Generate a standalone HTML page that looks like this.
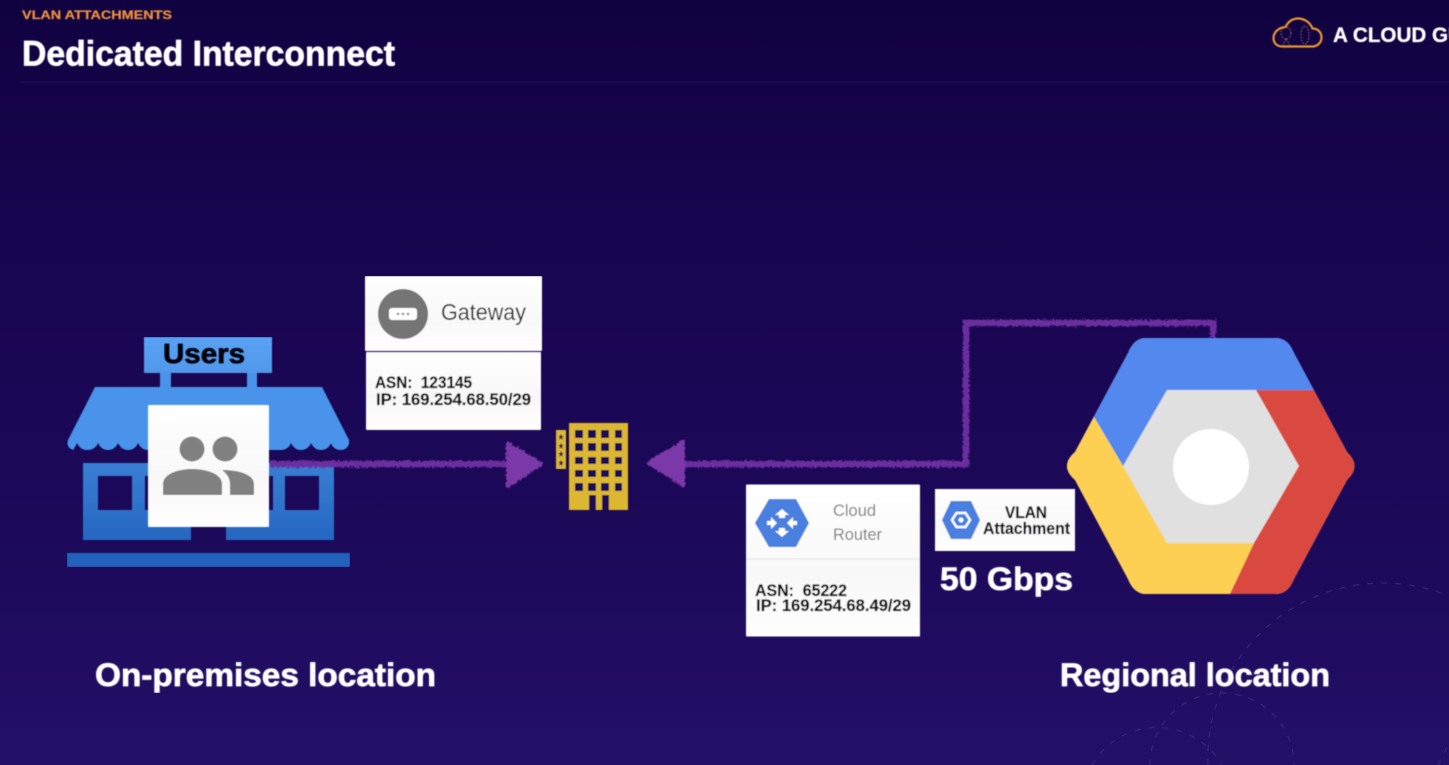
<!DOCTYPE html>
<html><head><meta charset="utf-8"><style>
html,body{margin:0;padding:0;width:1449px;height:765px;overflow:hidden;background:#1b0858}
svg{display:block;overflow:hidden}
text{font-family:"Liberation Sans",sans-serif;white-space:pre}
</style></head><body>
<svg width="1449" height="765" viewBox="0 0 1449 765" xmlns="http://www.w3.org/2000/svg">
<defs>
<linearGradient id="bg" x1="0" y1="0" x2="0" y2="1">
<stop offset="0" stop-color="#100240"/><stop offset=".3" stop-color="#180550"/><stop offset=".7" stop-color="#1c0959"/><stop offset="1" stop-color="#231068"/>
</linearGradient>
<linearGradient id="st1" gradientUnits="userSpaceOnUse" x1="0" y1="337" x2="0" y2="567"><stop offset="0" stop-color="#5aa2f3"/><stop offset="1" stop-color="#1f60bb"/></linearGradient>
<linearGradient id="card" x1="0" y1="0" x2="0" y2="1"><stop offset="0" stop-color="#fff"/><stop offset=".6" stop-color="#f8f8f8"/><stop offset="1" stop-color="#fff"/></linearGradient>
<filter id="rough" filterUnits="userSpaceOnUse" x="250" y="300" width="1000" height="210"><feTurbulence type="fractalNoise" baseFrequency=".4" numOctaves="3" seed="7"/><feDisplacementMap in="SourceGraphic" scale="5" xChannelSelector="R" yChannelSelector="G"/><feGaussianBlur stdDeviation=".5"/></filter>
<filter id="soft" x="0" y="0" width="100%" height="100%"><feGaussianBlur stdDeviation=".45"/></filter>
<clipPath id="hex"><path d="M1146 338H1276Q1288 338 1294 353L1347 452Q1362 466 1347 480L1294 579Q1288 594 1276 594H1146Q1134 594 1128 579L1075 480Q1059 466 1075 452L1128 353Q1134 338 1146 338Z"/></clipPath>
</defs>
<rect width="1449" height="765" fill="url(#bg)"/>

<g fill="none" stroke="#3b2b7e" stroke-width="1.300" stroke-dasharray="6 8" opacity=".75">
<path d="M1208 765A175 175 0 0 1 1449 596"/>
<path d="M1150 765A72 72 0 0 1 1294 765"/>
<path d="M1092 765A75 75 0 0 1 1222 765"/>
<path d="M1447 747L1438 765"/>
</g>

<g filter="url(#soft)">
<line x1="20" y1="82.500" x2="1449" y2="82.500" stroke="#2a1c60" stroke-width="1.500"/>
<text x="22" y="19" font-size="12" font-weight="700" fill="#f0903a" stroke="#f0903a" stroke-width=".2" textLength="150" lengthAdjust="spacingAndGlyphs">VLAN ATTACHMENTS</text>
<text x="22" y="65.500" font-size="35" font-weight="700" fill="#fff" stroke="#fff" stroke-width=".7" textLength="373" lengthAdjust="spacingAndGlyphs">Dedicated Interconnect</text>

<!-- logo -->
<g fill="none">
<path d="M1282 46.500H1312C1318 46.500 1321.500 42 1321.500 37.500C1321.500 32 1317.500 28.500 1312.500 28.500C1310 22 1304 18.500 1298 18.500C1292 18.500 1288 22 1285.500 27C1279 27.500 1273.500 32 1273.500 38C1273.500 43 1277 46.500 1282 46.500Z" stroke="#e8962f" stroke-width="2.200"/>
<ellipse cx="1286" cy="33" rx="5" ry="6" stroke="#a8745a" stroke-width="1" stroke-dasharray="1.500 1.500"/>
<path d="M1286 39L1283 45M1286 39L1290 45" stroke="#a8745a" stroke-width="1" stroke-dasharray="1.500 1.500"/>
<ellipse cx="1305" cy="35" rx="4" ry="9" stroke="#a8745a" stroke-width="1" stroke-dasharray="1.500 1.500"/>
</g>
<text x="1333" y="42" font-size="21" font-weight="700" fill="#fff" stroke="#fff" stroke-width=".3" textLength="130" lengthAdjust="spacingAndGlyphs">A CLOUD GU</text>
</g>

<g filter="url(#soft)">
<!-- store -->
<rect x="144" y="337" width="128" height="36" fill="url(#st1)"/>
<rect x="160" y="373" width="11" height="15" fill="#4a93ea"/>
<rect x="247" y="373" width="10" height="15" fill="#4a93ea"/>
<path d="M95 387H322L349 440C350 446 346 450 341 450C336 450 332 447 331 443C329 448 325 450 321 450C316 450 313 447 311 443C309 448 305 450 301 450C296 450 293 447 291 443C289 448 285 450 281 450L148 450C143 450 140 447 138 443C136 448 132 450 128 450C123 450 120 447 118 443C116 448 112 450 108 450C103 450 100 447 98 443C96 448 92 450 87 450C82 450 79 447 77 443C75 448 72 450 75 450C70 450 66 446 68 440Z" fill="#4a93ea"/>
<path fill-rule="evenodd" d="M83 463H334V540H226V520H191V540H83ZM98 476V510H132V476ZM145 476V510H180V476ZM238 476V510H273V476ZM285 476V510H319V476Z" fill="url(#st1)"/>
<rect x="67" y="553" width="283" height="14" fill="#2262bd"/>
</g>

<!-- connectors -->
<g filter="url(#rough)">
<path d="M270 464H508" fill="none" stroke="#6c2f9e" stroke-width="6.500"/>
<path d="M508 444L541 464L508 486Z" fill="#7a39a8" stroke="#7a39a8" stroke-width="4" stroke-linejoin="round"/>
<path d="M685 464H966V323H1213V338" fill="none" stroke="#6c2f9e" stroke-width="6.500"/>
<path d="M683 442L649 463L683 485Z" fill="#7a39a8" stroke="#7a39a8" stroke-width="4" stroke-linejoin="round"/>
</g>

<g filter="url(#soft)">
<text x="163" y="363" font-size="28" font-weight="700" fill="#06060f" stroke="#06060f" stroke-width=".7" textLength="82" lengthAdjust="spacingAndGlyphs">Users</text>
<rect x="148" y="405" width="121" height="122" rx="1" fill="url(#card)"/>
<g fill="#808080">
<circle cx="192" cy="449" r="12.500"/><circle cx="225" cy="449" r="12.500"/>
<path d="M163 495V484C163 474 178 469 192 469C207 469 222 474 222 484V495Z"/>
<path d="M222 470C240 470 254 475 254 484V495H230V484C230 478 227 474 222 470Z"/>
</g>

<!-- gateway -->
<rect x="365" y="276" width="177" height="75" rx="1" fill="url(#card)"/>
<rect x="366" y="352" width="175" height="78" rx="1" fill="url(#card)"/>
<circle cx="403" cy="314" r="25" fill="#757575"/>
<rect x="389" y="308" width="28" height="12" rx="3" fill="#fff"/>
<g fill="#757575"><circle cx="398" cy="314" r="1.200"/><circle cx="403" cy="314" r="1.200"/><circle cx="408" cy="314" r="1.200"/></g>
<text x="441" y="320" font-size="23" fill="#333" textLength="85" lengthAdjust="spacingAndGlyphs">Gateway</text>
<text x="375" y="388" font-size="16.500" font-weight="700" fill="#111" stroke="#111" stroke-width=".2" textLength="97" lengthAdjust="spacingAndGlyphs">ASN:  123145</text>
<text x="376" y="405" font-size="16.500" font-weight="700" fill="#111" stroke="#111" stroke-width=".2" textLength="155" lengthAdjust="spacingAndGlyphs">IP: 169.254.68.50/29</text>

<!-- building -->
<rect x="569" y="423" width="59" height="87" fill="#dcb832"/>
<rect x="556" y="430" width="10" height="39" fill="#dcb832"/>
<g fill="#1a0755">
<path d="M575 430h8v8h-8zM588 430h8v8h-8zM601 430h8v8h-8zM615 430h7v8h-7zM575 443h8v8h-8zM588 443h8v8h-8zM601 443h8v8h-8zM615 443h7v8h-7zM575 457h8v7h-8zM588 457h8v7h-8zM601 457h8v7h-8zM615 457h7v7h-7zM575 470h8v7h-8zM588 470h8v7h-8zM601 470h8v7h-8zM615 470h7v7h-7zM575 483h8v8h-8zM588 483h8v8h-8zM601 483h8v8h-8zM615 483h7v8h-7zM589 495h7v15h-7zM602 495h7v15h-7z"/>
<path d="M561 434l1 2h2l-2 1.500 1 2.500-2-1.500-2 1.500 1-2.500-2-1.500h2zM561 443l1 2h2l-2 1.500 1 2.500-2-1.500-2 1.500 1-2.500-2-1.500h2zM561 451l1 2h2l-2 1.500 1 2.500-2-1.500-2 1.500 1-2.500-2-1.500h2zM561 460l1 2h2l-2 1.500 1 2.500-2-1.500-2 1.500 1-2.500-2-1.500h2z"/>
</g>

<!-- cloud router -->
<rect x="746" y="484.500" width="174" height="152" rx="1" fill="url(#card)"/>
<line x1="746" y1="559" x2="920" y2="559" stroke="#e2e2e2" stroke-width="1"/>
<path d="M769 499H796L809 523L796 547H769L755 523Z" fill="#4a80e0"/>
<path d="M782 509l7 6h-4v3h-6v-3h-4zM782 537l7-6h-4v-3h-6v3h-4zM777 523l-6-6v4h-4v4h4v4zM787 523l6-6v4h4v4h-4v4z" fill="#fff"/>
<text x="833" y="516" font-size="17" fill="#7d7d7d" textLength="43" lengthAdjust="spacingAndGlyphs">Cloud</text>
<text x="833" y="540" font-size="17" fill="#7d7d7d" textLength="49" lengthAdjust="spacingAndGlyphs">Router</text>
<text x="755" y="596" font-size="16.500" font-weight="700" fill="#111" stroke="#111" stroke-width=".2" textLength="92" lengthAdjust="spacingAndGlyphs">ASN:  65222</text>
<text x="756" y="611" font-size="16.500" font-weight="700" fill="#111" stroke="#111" stroke-width=".2" textLength="155" lengthAdjust="spacingAndGlyphs">IP: 169.254.68.49/29</text>

<!-- vlan -->
<rect x="935" y="489" width="140" height="62" fill="url(#card)"/>
<path d="M951 501H971L980 520L971 539H951L942 520Z" fill="#4a80e0"/>
<path d="M956.500 513H965.500L970 520L965.500 527H956.500L952 520Z" fill="none" stroke="#fff" stroke-width="2.500"/>
<circle cx="961" cy="520" r="2.500" fill="#fff"/>
<text x="1005" y="518" font-size="16.500" font-weight="700" fill="#0b0b12" stroke="#0b0b12" stroke-width=".2" textLength="42" lengthAdjust="spacingAndGlyphs">VLAN</text>
<text x="983" y="534" font-size="16.500" font-weight="700" fill="#0b0b12" stroke="#0b0b12" stroke-width=".2" textLength="87" lengthAdjust="spacingAndGlyphs">Attachment</text>
<text x="940" y="590" font-size="32" font-weight="700" fill="#fff" stroke="#fff" stroke-width=".6" textLength="133" lengthAdjust="spacingAndGlyphs">50 Gbps</text>

<!-- hexagon -->
<g clip-path="url(#hex)">
<rect x="1060" y="330" width="300" height="270" fill="#e0e0e0"/>
<path d="M1055 330H1365V390H1167L1123 466L1094 417L1055 417Z" fill="#5288ef"/>
<path d="M1256 390H1365V600H1227L1254 543L1299 466Z" fill="#da4a3f"/>
<path d="M1094 417L1123 466L1167 543H1254L1227 600H1055V417Z" fill="#fdd053"/>
</g>
<circle cx="1211" cy="467" r="38" fill="#fff"/>

<text x="95" y="686" font-size="32.500" font-weight="700" fill="#fff" stroke="#fff" stroke-width=".7" textLength="341" lengthAdjust="spacingAndGlyphs">On-premises location</text>
<text x="1060" y="686" font-size="32.500" font-weight="700" fill="#fff" stroke="#fff" stroke-width=".7" textLength="270" lengthAdjust="spacingAndGlyphs">Regional location</text>
</g>
</svg>
</body></html>
